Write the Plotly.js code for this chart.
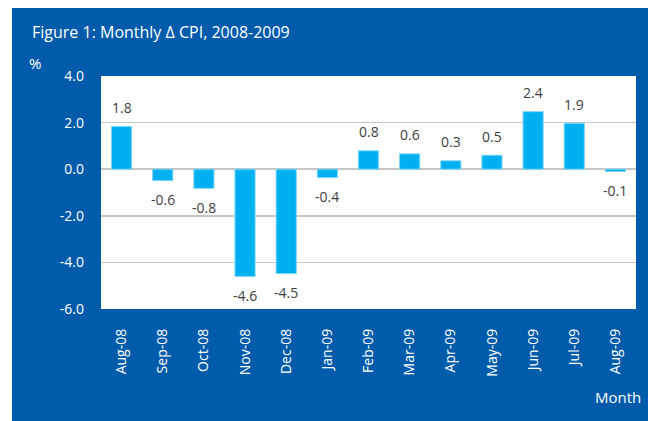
<!DOCTYPE html>
<html>
<head>
<meta charset="utf-8">
<script src="https://cdn.plot.ly/plotly-3.0.1.min.js"></script>
<style>
  html, body { margin: 0; padding: 0; background: #ffffff; width: 648px; height: 421px; overflow: hidden; }
  #chart { position: absolute; left: 12px; top: 8px; width: 636px; height: 413px; }
</style>
</head>
<body>
<div id="chart"></div>
<script>
// Data
var months = ["Aug-08", "Sep-08", "Oct-08", "Nov-08", "Dec-08", "Jan-09", "Feb-09",
              "Mar-09", "Apr-09", "May-09", "Jun-09", "Jul-09", "Aug-09"];
var cpiChange = [1.83, -0.49, -0.82, -4.6, -4.48, -0.36, 0.79, 0.66, 0.36, 0.6, 2.47, 1.97, -0.1];
var valueLabels = ["1.8", "-0.6", "-0.8", "-4.6", "-4.5", "-0.4", "0.8", "0.6", "0.3", "0.5", "2.4", "1.9", "-0.1"];
var yTickVals = [-6, -4, -2, 0, 2, 4];
var yTickText = ["-6.0", "-4.0", "-2.0", "0.0", "2.0", "4.0"];

var FONT = "'Open Sans', 'DejaVu Sans', sans-serif";
var BLUE = "#005BAA";

var trace = {
  type: "bar",
  x: months,
  y: cpiChange,
  marker: { color: "#00B0F0", line: { color: "#7fd6f6", width: 1 } },
  hoverinfo: "x+y"
};

var labelAnnotations = months.map(function (m, i) {
  var v = cpiChange[i];
  return {
    x: m, y: v, xref: "x", yref: "y",
    text: valueLabels[i], showarrow: false,
    xanchor: "center", yanchor: "middle",
    yshift: v >= 0 ? 19 : -19,
    font: { family: FONT, size: 14, color: "#404040" }
  };
});

labelAnnotations.push({
  xref: "paper", yref: "paper", x: 1.013, y: -0.379,
  xanchor: "right", yanchor: "middle",
  text: "Month", showarrow: false,
  font: { family: FONT, size: 15, color: "#ffffff" }
});
labelAnnotations.push({
  xref: "paper", yref: "paper", x: -0.138, y: 1.055,
  xanchor: "left", yanchor: "middle",
  text: "%", showarrow: false,
  font: { family: FONT, size: 15, color: "#ffffff" }
});

var layout = {
  width: 636, height: 413,
  paper_bgcolor: BLUE,
  plot_bgcolor: "#ffffff",
  margin: { l: 89, r: 12, t: 68, b: 112, pad: 0 },
  title: {
    text: "Figure 1: Monthly Δ CPI, 2008-2009",
    x: 20 / 636, xanchor: "left", xref: "container",
    y: 1 - 24 / 413, yanchor: "middle", yref: "container",
    font: { family: "'Liberation Sans Narrow', 'Open Sans', sans-serif", size: 16, color: "#ffffff" }
  },
  showlegend: false,
  bargap: 0.51,
  xaxis: {
    type: "category",
    tickangle: -90,
    tickfont: { family: FONT, size: 14, color: "#ffffff" },
    ticks: "", showgrid: false, showline: false, zeroline: false,
    ticklabelstandoff: 16,
    automargin: false
  },
  yaxis: {
    range: [-6, 4],
    tickvals: yTickVals,
    ticktext: yTickText,
    tickfont: { family: FONT, size: 14, color: "#ffffff" },
    ticks: "", showline: false,
    showgrid: true, gridcolor: "#c6c6c6", gridwidth: 1.6,
    zeroline: true, zerolinecolor: "#c6c6c6", zerolinewidth: 1.6,
    ticklabelstandoff: 16,
    automargin: false
  },
  annotations: labelAnnotations
};

Plotly.newPlot("chart", [trace], layout, { displayModeBar: false, staticPlot: true });
</script>
</body>
</html>
